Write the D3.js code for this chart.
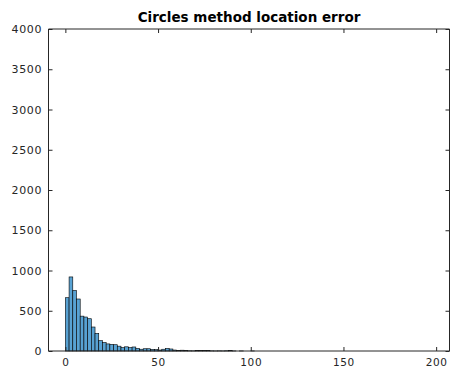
<!DOCTYPE html>
<html><head><meta charset="utf-8">
<script src="https://cdn.jsdelivr.net/npm/d3@7"></script>
<style>body{margin:0;background:#fff}svg{display:block}</style>
</head><body>
<script>
const title = "Circles method location error";
const binWidth = 2;
const binStart = 0;
const counts = [662,920,752,646,433,422,401,298,218,128,106,88,83,78,60,42,52,42,50,32,22,28,28,20,17,12,22,32,25,12,8,10,6,3,2,8,4,8,8,2,1,2,1,3,8,1,0,1,0,0,1];
const xTicks = [0,50,100,150,200];
const yTicks = [0,500,1000,1500,2000,2500,3000,3500,4000];
const xDomain = [-9.1, 207.2];
const yDomain = [0, 4000];

const W = 451, H = 369;
const L = 48.5, R = 449.5, T = 29, B = 351;
const svg = d3.select("body").append("svg").attr("width", W).attr("height", H);
const x = d3.scaleLinear().domain(xDomain).range([L, R]);
const y = d3.scaleLinear().domain(yDomain).range([B, T]);
const axisColor = "#262626";
const font = "DejaVu Sans, sans-serif";

// bars
const bins = counts.map((c, i) => ({x0: binStart + i*binWidth, x1: binStart + (i+1)*binWidth, c}));
svg.append("g").selectAll("rect").data(bins).join("rect")
  .attr("x", d => x(d.x0)).attr("width", d => x(d.x1) - x(d.x0))
  .attr("y", d => y(d.c)).attr("height", d => y(0) - y(d.c))
  .attr("fill", "rgb(88,162,211)").attr("stroke", "#000").attr("stroke-width", 0.6);

// axes
const tl = 4;
const xb = svg.append("g").attr("transform", `translate(0,${B})`)
  .call(d3.axisBottom(x).tickValues(xTicks).tickSize(-tl).tickPadding(7.5).tickFormat(d3.format("d")));
const xt = svg.append("g").attr("transform", `translate(0,${T})`)
  .call(d3.axisTop(x).tickValues(xTicks).tickSize(-tl).tickFormat(""));
const yl = svg.append("g").attr("transform", `translate(${L},0)`)
  .call(d3.axisLeft(y).tickValues(yTicks).tickSize(-tl).tickPadding(6.5).tickFormat(d3.format("d")));
const yr = svg.append("g").attr("transform", `translate(${R},0)`)
  .call(d3.axisRight(y).tickValues(yTicks).tickSize(-tl).tickFormat(""));
[xb, xt, yl, yr].forEach(g => {
  g.selectAll("path.domain").attr("stroke", axisColor).attr("stroke-width", 1);
  g.selectAll(".tick line").attr("stroke", axisColor);
  g.selectAll("text").attr("fill", axisColor).style("font-family", font)
    .style("font-size", "11px").style("letter-spacing", "0.6px");
});
xb.selectAll("text").style("font-size", "10.5px");
xb.selectAll("path.domain").attr("d", `M${L},0H${R}`);
xt.selectAll("path.domain").attr("d", `M${L},0H${R}`);
yl.selectAll("path.domain").attr("d", `M0,${B}V${T}`);
yr.selectAll("path.domain").attr("d", `M0,${B}V${T}`);

svg.append("text").attr("x", (L+R)/2).attr("y", 22).attr("text-anchor", "middle")
  .style("font-family", font).style("font-size", "13.5px").style("font-weight", "bold")
  .attr("fill", "#000").text(title);
</script>
</body></html>
